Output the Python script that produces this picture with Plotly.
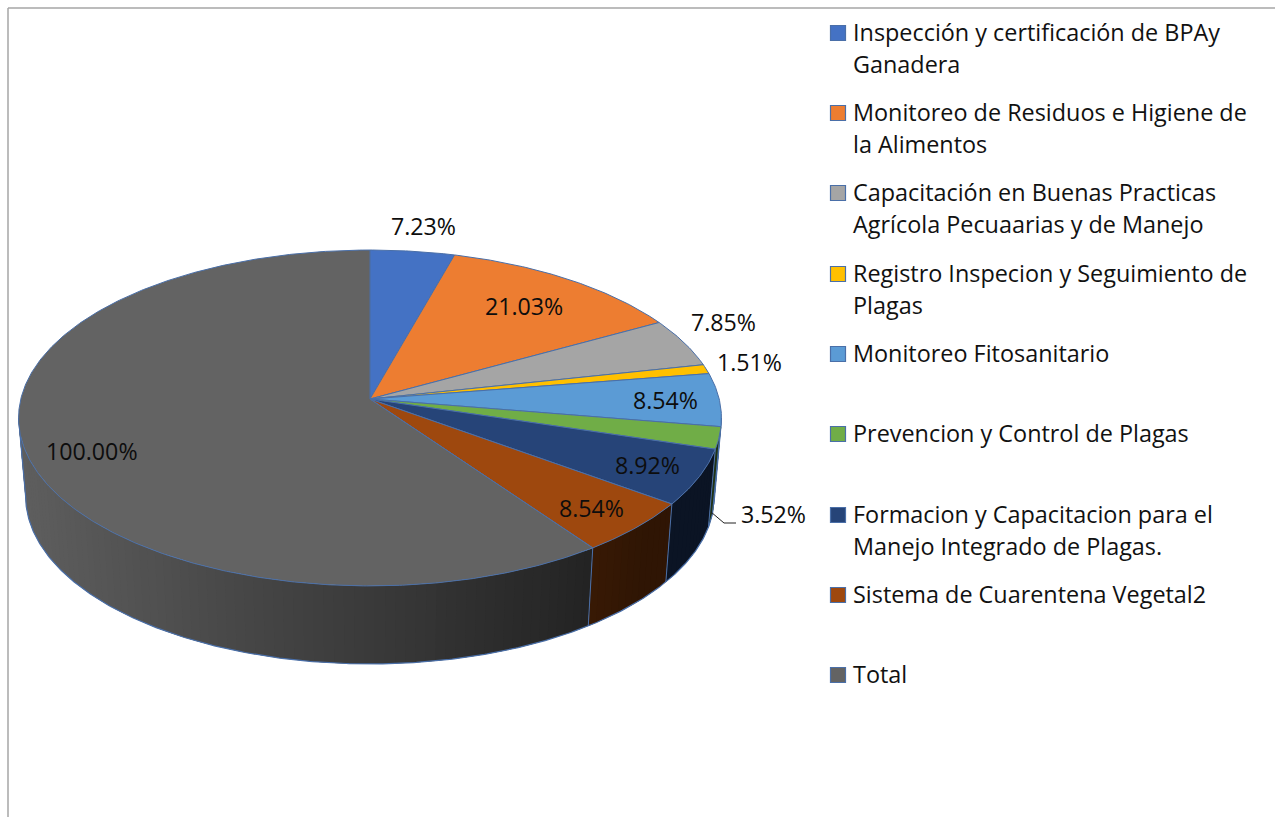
import numpy as np
import plotly.graph_objects as go

# ---------- data ----------
categories = [
    "Inspección y certificación de BPAy<br>Ganadera",
    "Monitoreo de Residuos e Higiene de<br>la Alimentos",
    "Capacitación en Buenas Practicas<br>Agrícola Pecuaarias y de Manejo",
    "Registro Inspecion y Seguimiento de<br>Plagas",
    "Monitoreo Fitosanitario",
    "Prevencion y Control de Plagas",
    "Formacion y Capacitacion para el<br>Manejo Integrado de Plagas.",
    "Sistema de Cuarentena Vegetal2",
    "Total",
]
values = [7.23, 21.03, 7.85, 1.51, 8.54, 3.52, 8.92, 8.54, 100.00]
colors = ["#4472C4", "#ED7D31", "#A5A5A5", "#FFC000", "#5B9BD5",
          "#70AD47", "#264478", "#9E480E", "#636363"]

# ---------- layout constants ----------
W, H = 1275, 817
CX, CY = 370.0, 399.0      # apex of the pie on the page
A, B, K = 349.2, 165.8, 0.113  # perspective of the tilted disc
DEPTH, SHRINK = 78.0, 0.98
EDGE = "#4A6FA8"
FONT = "Open Sans"
FS_LEGEND = 23.4
FS_LABEL = 23.2
LEG_MARK_X, LEG_TEXT_X = 838, 851
LEG_MARK_Y = [33, 113, 193, 274, 354, 434, 515, 595, 675]
LINE_H = 32
LABEL_POS = [(423, 226), (524, 306), (723, 322), (749, 362), (665, 400),
             (773, 514), (647, 465), (591, 508), (92, 451)]


def top(theta):
    X, Y = np.sin(theta), np.cos(theta)
    d = 1 + K * Y
    return CX + A * X / d, CY - B * Y / d


def bottom(theta):
    x, y = top(theta)
    return CX + (x - CX) * SHRINK, y + DEPTH


def shade(hex_color, x):
    f = float(np.clip(0.95 - 0.59 * (x - 25) / 565, 0.30, 0.97))
    r, g, b = (int(hex_color[i:i + 2], 16) for i in (1, 3, 5))
    return f"rgb({int(r * f)},{int(g * f)},{int(b * f)})"


fig = go.Figure()
common = dict(hoverinfo="skip", showlegend=False)

edges = np.cumsum([0] + values) / sum(values) * 2 * np.pi
t_right = np.arccos(-K)            # rightmost point of the disc
t_left = 2 * np.pi - t_right       # leftmost point of the disc

# side wall, strip by strip; each strip reaches under the next one so no seams show
for i, col in enumerate(colors):
    a0, a1 = max(edges[i], t_right - 0.03), min(edges[i + 1], t_left + 0.03)
    if a1 <= a0:
        continue
    n = max(2, int((a1 - a0) / np.radians(1.5)))
    ts = np.linspace(a0, a1, n + 1)
    for k in range(n):
        tt = np.linspace(ts[k], ts[min(k + 2, n)], 5)
        xt, yt = top(tt)
        xb, yb = bottom(tt[::-1])
        c = shade(col, float(top(0.5 * (ts[k] + ts[k + 1]))[0]))
        fig.add_trace(go.Scatter(
            x=np.r_[xt, xb, xt[0]], y=np.r_[yt, yb, yt[0]], mode="lines",
            fill="toself", fillcolor=c, line=dict(width=0), **common))

# bottom rim with its two silhouette ends, and vertical seams
tt = np.linspace(t_right, t_left, 400)
xb, yb = bottom(tt)
xl, yl = top(t_left)
xr, yr = top(t_right)
fig.add_trace(go.Scatter(x=np.r_[xr, xb, xl], y=np.r_[yr, yb, yl], mode="lines",
                         line=dict(color=EDGE, width=1.2), **common))
for e in edges[:-1]:
    if t_right < e < t_left:
        xa, ya = top(e)
        xc, yc = bottom(e)
        fig.add_trace(go.Scatter(x=[xa, xc], y=[ya, yc], mode="lines",
                                 line=dict(color=EDGE, width=1), **common))

# top face wedges
for i, col in enumerate(colors):
    tt = np.linspace(edges[i], edges[i + 1], max(3, int((edges[i + 1] - edges[i]) * 120)))
    xa, ya = top(tt)
    fig.add_trace(go.Scatter(
        x=np.r_[CX, xa, CX], y=np.r_[CY, ya, CY], mode="lines", fill="toself",
        fillcolor=col, line=dict(color=EDGE, width=1), **common))

# legend markers
for col, y in zip(colors, LEG_MARK_Y):
    fig.add_trace(go.Scatter(
        x=[LEG_MARK_X], y=[y], mode="markers",
        marker=dict(symbol="square", size=15, color=col, line=dict(color=EDGE, width=1.2)),
        **common))

annotations = []
for label, y in zip(categories, LEG_MARK_Y):
    for j, line in enumerate(label.split("<br>")):
        annotations.append(dict(
            x=LEG_TEXT_X, y=y - 1 + j * LINE_H, text=line, xref="x", yref="y",
            xanchor="left", yanchor="middle", showarrow=False,
            font=dict(family=FONT, size=FS_LEGEND, color="#111111")))
for v, (x, y) in zip(values, LABEL_POS):
    annotations.append(dict(
        x=x, y=y, text=f"{v:.2f}%", xref="x", yref="y", xanchor="center",
        yanchor="middle", showarrow=False,
        font=dict(family=FONT, size=FS_LABEL, color="#0d0d0d")))

fig.update_layout(
    width=W, height=H, margin=dict(l=0, r=0, t=0, b=0),
    paper_bgcolor="white", plot_bgcolor="white", autosize=False,
    xaxis=dict(range=[0, W], visible=False, fixedrange=True),
    yaxis=dict(range=[H, 0], visible=False, fixedrange=True),
    annotations=annotations,
    shapes=[
        dict(type="line", x0=8, y0=8, x1=8, y1=H, xref="x", yref="y",
             line=dict(color="#A6A6A6", width=1.5)),
        dict(type="line", x0=8, y0=8, x1=W, y1=8, xref="x", yref="y",
             line=dict(color="#A6A6A6", width=1.5)),
        dict(type="path", path="M 711 512 L 724 523 L 736 523", xref="x", yref="y",
             line=dict(color="#222222", width=1)),
    ],
)
fig.write_html("out.html", config={"displayModeBar": False},
               post_script="document.body.style.margin='0';document.body.style.overflow='hidden';")
